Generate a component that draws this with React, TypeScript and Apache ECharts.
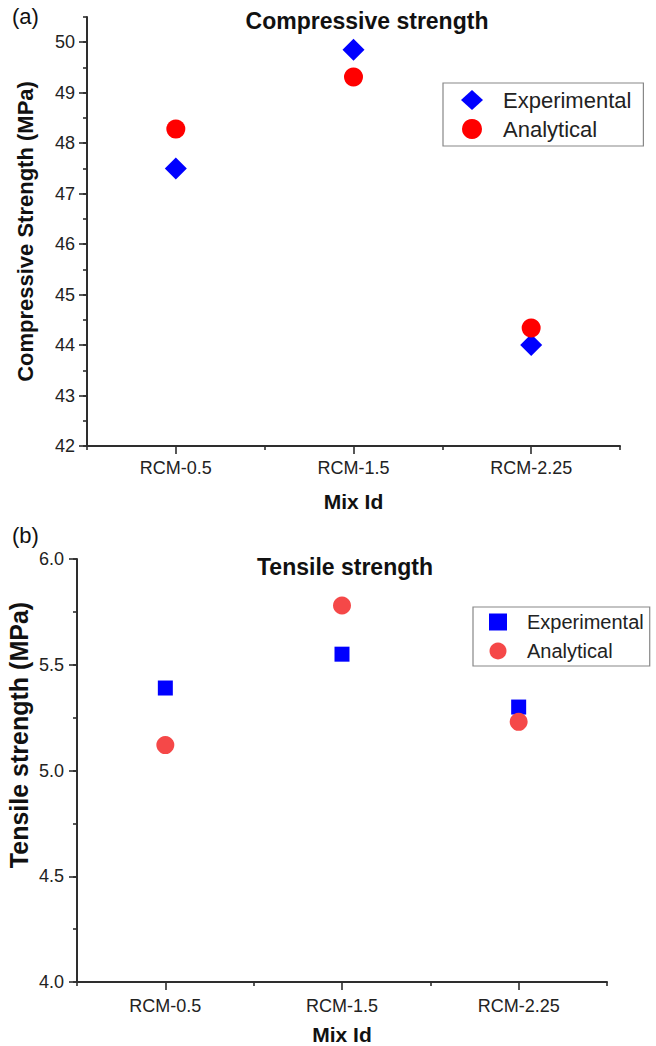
import React, { useEffect, useRef } from "react";
import * as echarts from "echarts";

const categories = ["RCM-0.5", "RCM-1.5", "RCM-2.25"];
const compExperimental = [47.5, 49.85, 44.0];
const compAnalytical = [48.28, 49.31, 44.34];
const tensExperimental = [5.39, 5.55, 5.3];
const tensAnalytical = [5.12, 5.78, 5.23];
const compTicks = [42, 43, 44, 45, 46, 47, 48, 49, 50];
const tensTicks = [4.0, 4.5, 5.0, 5.5, 6.0];

const FONT = "'Liberation Sans', Arial, sans-serif";
const AXIS_COLOR = "#2e2e2e";
const BLUE = "#0000FF";
const RED_A = "#FF0000";
const RED_B = "#F54848";

function catAxis(gridIndex: number, labelMargin: number, nameGap: number) {
  return {
    type: "category",
    gridIndex,
    data: categories,
    boundaryGap: true,
    position: "bottom",
    offset: 0,
    name: "Mix Id",
    nameLocation: "middle",
    nameGap,
    nameTextStyle: { fontFamily: FONT, fontSize: 21, fontWeight: "bold", color: "#111" },
    axisLine: { show: true, lineStyle: { color: AXIS_COLOR, width: 2 } },
    axisTick: { show: true, alignWithLabel: true, length: 8, lineStyle: { color: AXIS_COLOR, width: 1.6 } },
    axisLabel: { fontFamily: FONT, fontSize: 18, color: "#222", margin: labelMargin },
    splitLine: { show: false },
  };
}

function minorXAxis(gridIndex: number) {
  return {
    type: "value",
    gridIndex,
    min: 0,
    max: 3,
    interval: 1,
    position: "bottom",
    offset: 0,
    axisLine: { show: false },
    axisTick: { show: true, length: 4, lineStyle: { color: AXIS_COLOR, width: 1.6 } },
    axisLabel: { show: false },
    splitLine: { show: false },
  };
}

function minorYAxis(gridIndex: number, min: number, max: number, interval: number) {
  return {
    type: "value",
    gridIndex,
    min,
    max,
    interval,
    position: "left",
    offset: 0,
    axisLine: { show: false },
    axisTick: { show: true, length: 4, lineStyle: { color: AXIS_COLOR, width: 1.6 } },
    axisLabel: { show: false },
    splitLine: { show: false },
  };
}

export default function App() {
  const ref = useRef<HTMLDivElement>(null);

  useEffect(() => {
    if (!ref.current) return;
    const chart = echarts.init(ref.current, null, { renderer: "svg" });
    const option: any = {
      animation: false,
      backgroundColor: "#ffffff",
      title: [
        {
          text: "Compressive strength",
          left: 362,
          top: 4,
          textAlign: "center",
          textStyle: { fontFamily: FONT, fontSize: 23, fontWeight: "bold", color: "#111" },
        },
        {
          text: "Tensile strength",
          left: 340,
          top: 550,
          textAlign: "center",
          textStyle: { fontFamily: FONT, fontSize: 23, fontWeight: "bold", color: "#111" },
        },
      ],
      graphic: [
        {
          type: "text",
          left: 12,
          top: 5,
          style: { text: "(a)", fontFamily: FONT, fontSize: 22, fill: "#111" },
        },
        {
          type: "text",
          left: 12,
          top: 524,
          style: { text: "(b)", fontFamily: FONT, fontSize: 22, fill: "#111" },
        },
        {
          type: "text",
          x: 19,
          y: 735,
          rotation: Math.PI / 2,
          style: {
            text: "Tensile strength (MPa)",
            fontFamily: FONT,
            fontSize: 25,
            fontWeight: "bold",
            fill: "#111",
            align: "center",
            verticalAlign: "middle",
          },
        },
      ],
      legend: [
        {
          orient: "vertical",
          left: 443,
          top: 83,
          padding: [6, 12, 6, 18],
          itemWidth: 22,
          itemHeight: 20,
          itemGap: 7,
          borderColor: "#888",
          borderWidth: 1.2,
          textStyle: { fontFamily: FONT, fontSize: 22, color: "#222", padding: [0, 0, 0, 15], lineHeight: 20 },
          data: [
            { name: "Experimental", icon: "diamond", itemStyle: { color: BLUE, opacity: 1 } },
            { name: "Analytical", icon: "circle", itemStyle: { color: RED_A, opacity: 1 } },
          ],
          selectedMode: false,
        },
        {
          orient: "vertical",
          left: 473,
          top: 607,
          padding: [5, 6, 5, 16],
          itemWidth: 18,
          itemHeight: 17,
          itemGap: 9,
          borderColor: "#888",
          borderWidth: 1.2,
          textStyle: { fontFamily: FONT, fontSize: 20, color: "#222", padding: [0, 0, 0, 15], lineHeight: 17 },
          data: [
            { name: "Experimental", icon: "rect", itemStyle: { color: BLUE, opacity: 1 } },
            { name: "Analytical", icon: "circle", itemStyle: { color: RED_B, opacity: 1 } },
          ],
          selectedMode: false,
        },
      ],
      grid: [
        { left: 87, top: 17, width: 533, height: 429 },
        { left: 77, top: 559, width: 530, height: 423 },
      ],
      xAxis: [catAxis(0, 13, 45), minorXAxis(0), catAxis(1, 15, 42), minorXAxis(1)],
      yAxis: [
        {
          type: "value",
          gridIndex: 0,
          min: 42,
          max: 50.5,
          interval: 1,
          position: "left",
          offset: 0,
          name: "Compressive Strength (MPa)",
          nameLocation: "middle",
          nameGap: 51,
          nameTextStyle: { fontFamily: FONT, fontSize: 22, fontWeight: "bold", color: "#111" },
          axisLine: { show: true, lineStyle: { color: AXIS_COLOR, width: 2 } },
          axisTick: {
            show: true,
            length: 8,
            customValues: compTicks,
            lineStyle: { color: AXIS_COLOR, width: 1.6 },
          },
          axisLabel: {
            fontFamily: FONT,
            fontSize: 18,
            color: "#222",
            margin: 12,
            customValues: compTicks,
            formatter: (v: number) => (Number.isInteger(v) ? String(v) : ""),
          },
          splitLine: { show: false },
        },
        minorYAxis(0, 42, 50.5, 0.5),
        {
          type: "value",
          gridIndex: 1,
          min: 4,
          max: 6,
          interval: 0.5,
          position: "left",
          offset: 0,
          axisLine: { show: true, lineStyle: { color: AXIS_COLOR, width: 2 } },
          axisTick: {
            show: true,
            length: 8,
            customValues: tensTicks,
            lineStyle: { color: AXIS_COLOR, width: 1.6 },
          },
          axisLabel: {
            fontFamily: FONT,
            fontSize: 18,
            color: "#222",
            margin: 13,
            customValues: tensTicks,
            formatter: (v: number) => v.toFixed(1),
          },
          splitLine: { show: false },
        },
        minorYAxis(1, 4, 6, 0.25),
      ],
      series: [
        {
          name: "Experimental",
          type: "scatter",
          xAxisIndex: 0,
          yAxisIndex: 0,
          symbol: "diamond",
          symbolSize: 22,
          itemStyle: { color: BLUE, opacity: 1 },
          data: compExperimental,
          z: 3,
        },
        {
          name: "Analytical",
          type: "scatter",
          xAxisIndex: 0,
          yAxisIndex: 0,
          symbol: "circle",
          symbolSize: 19,
          itemStyle: { color: RED_A, opacity: 1 },
          data: compAnalytical,
          z: 4,
        },
        {
          name: "Experimental",
          type: "scatter",
          xAxisIndex: 2,
          yAxisIndex: 2,
          symbol: "rect",
          symbolSize: 15,
          itemStyle: { color: BLUE, opacity: 1 },
          data: tensExperimental,
          z: 3,
        },
        {
          name: "Analytical",
          type: "scatter",
          xAxisIndex: 2,
          yAxisIndex: 2,
          symbol: "circle",
          symbolSize: 18,
          itemStyle: { color: RED_B, opacity: 1 },
          data: tensAnalytical,
          z: 4,
        },
      ],
    };
    chart.setOption(option);
    return () => chart.dispose();
  }, []);

  return (
    <div
      ref={ref}
      style={{ position: "fixed", left: 0, top: 0, width: 656, height: 1046, background: "#fff" }}
    />
  );
}
